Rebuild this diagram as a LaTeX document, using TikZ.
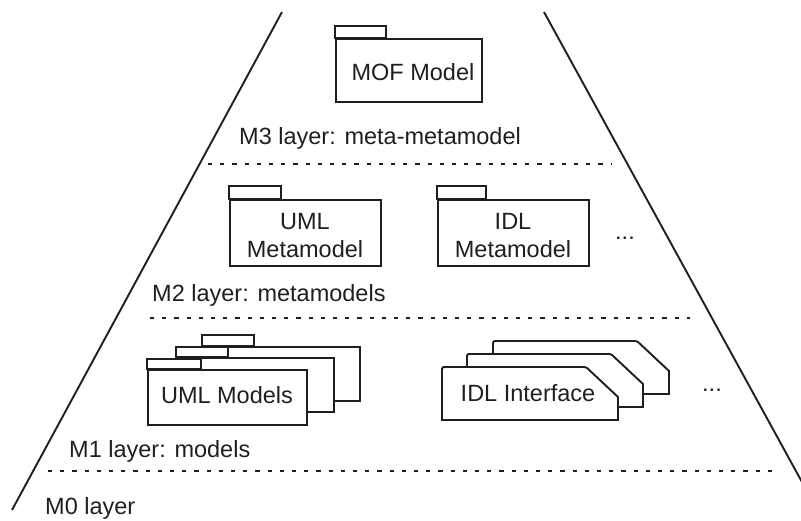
\documentclass[tikz,border=0pt]{standalone}
\usepackage{fontspec}
\setmainfont{Liberation Sans}
\begin{document}
\begin{tikzpicture}[x=1pt,y=-1pt,
  ink/.style={draw=black!88, line width=1.9},
  pkgbody/.style={ink, fill=white, rectangle, inner sep=0pt, anchor=north west},
  pkgtab/.style={ink, fill=white},
  layerline/.style={draw=black!88, line width=2.2, dash pattern=on 4.2pt off 8pt},
  lbl/.style={inner sep=0pt, anchor=base west, text=black!88},
  txt/.style={inner sep=0pt, text=black!88, align=center},
  font=\fontsize{23.5}{28}\selectfont]
\useasboundingbox (0,0) rectangle (801,520);

% pyramid sides
\begin{scope}
  \clip (0,0) rectangle (801,520);
  \coordinate (ltop) at (282,12);
  \coordinate (lbot) at (12,510);
  \coordinate (rtop) at (544,12);
  \coordinate (rbot) at (808,493);
  \draw[ink] (ltop) -- (lbot);
  \draw[ink] (rtop) -- (rbot);
\end{scope}

% layer separators
\coordinate (d3a) at (208,164); \coordinate (d3b) at (611,164);
\coordinate (d2a) at (150,318); \coordinate (d2b) at (690,318);
\coordinate (d1a) at (48,471);  \coordinate (d1b) at (773,471);
\draw[layerline] (d3a) -- (d3b);
\draw[layerline] (d2a) -- (d2b);
\draw[layerline] (d1a) -- (d1b);

% layer labels
\node[lbl] (m3) at (239,144) {M3 layer: meta-metamodel};
\node[lbl] (m2) at (152,301) {M2 layer: metamodels};
\node[lbl] (m1) at (69,457)  {M1 layer: models};
\node[lbl] (m0) at (45,514)  {M0 layer};

% M3: MOF model package
\node[pkgbody, minimum width=146, minimum height=63] (mof) at (335,38) {};
\draw[pkgtab] (mof.north west) rectangle ++(51,-12);
\node[txt] (moft) at (413,72) {MOF Model};

% M2: metamodel packages
\node[pkgbody, minimum width=151, minimum height=66] (umlmm) at (229,199) {};
\draw[pkgtab] (umlmm.north west) rectangle ++(52,-13);
\node[txt] (umlmmt) at (305,236) {UML\\Metamodel};

\node[pkgbody, minimum width=151, minimum height=66] (idlmm) at (437,199) {};
\draw[pkgtab] (idlmm.north west) rectangle ++(49,-13);
\node[txt] (idlmmt) at (513,236) {IDL\\Metamodel};

\node[txt] (dots2) at (625,238) {...};

% M1: stacked UML model packages (back to front)
\node[pkgbody, minimum width=157, minimum height=54] (uml3) at (202,346) {};
\draw[pkgtab] (uml3.north west) rectangle ++(52,-11);
\node[pkgbody, minimum width=157, minimum height=54] (uml2) at (176,357) {};
\draw[pkgtab] (uml2.north west) rectangle ++(52,-10);
\node[pkgbody, minimum width=159, minimum height=55] (uml1) at (147,369) {};
\draw[pkgtab] (uml1.north west) rectangle ++(54,-10);
\node[txt] (uml1t) at (227,395) {UML Models};

% M1: stacked IDL interface shapes (back to front)
\foreach \x/\y in {493/341, 467/354, 442/367}{
  \filldraw[ink, fill=white, rounded corners=1.5]
    (\x,\y+50) -- (\x,\y) -- (\x+144,\y) [sharp corners] -- (\x+176,\y+30) -- (\x+176,\y+53) -- (\x,\y+53) -- cycle;
}
\node[txt] (idlt) at (528,393) {IDL Interface};

\node[txt] (dots1) at (712,390) {...};
\end{tikzpicture}
\end{document}
